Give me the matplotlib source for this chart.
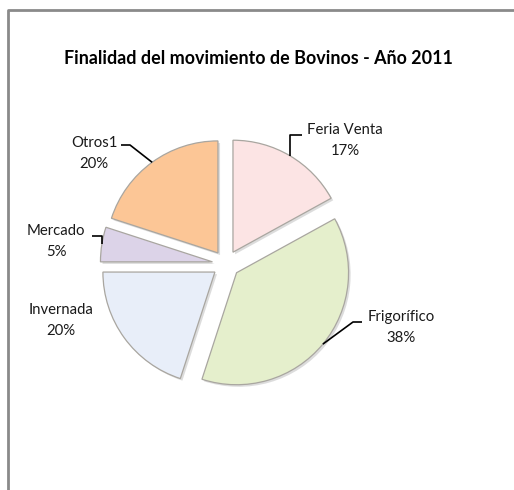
import matplotlib
matplotlib.use("Agg")
import matplotlib.pyplot as plt
import numpy as np
from matplotlib import patheffects as pe

# ---- data ----
title = "Finalidad del movimiento de Bovinos - Año 2011"
categories = ["Feria Venta", "Frigorífico", "Invernada", "Mercado", "Otros1"]
percentages = [17, 38, 20, 5, 20]
colors = ["#fce4e4", "#e5efcc", "#e8eef9", "#dcd3e8", "#fcc696"]

W, H = 514, 490
FONT = "Lato"

def py(y):
    return H - y

fig = plt.figure(figsize=(W / 100, H / 100), dpi=100)
ax = fig.add_axes([0, 0, 1, 1])

cx, cy, R = 226, py(264), 112
wedges, _ = ax.pie(
    percentages, colors=colors, startangle=90, counterclock=False,
    radius=R, center=(cx, cy), explode=[13.7] * len(percentages),
    wedgeprops=dict(edgecolor="#a9a6a0", linewidth=0.9),
)
for w in wedges:
    w.set_path_effects([pe.SimplePatchShadow(offset=(1.5, -1.5), alpha=0.25, shadow_rgbFace="#777777"), pe.Normal()])

ax.set_xlim(0, W)
ax.set_ylim(0, H)
ax.set_aspect("equal")
ax.axis("off")

# label layout (pixel positions of text centers, leader elbows)
label_pos = {
    "Feria Venta": (345, 130),
    "Frigorífico": (401, 317),
    "Invernada": (61, 310),
    "Mercado": (56, 231),
    "Otros1": (94, 143),
}
leaders = {
    "Feria Venta": ("vert", 135, 302),
    "Frigorífico": ((353, 322), 362),
    "Invernada": None,
    "Mercado": ("vert", 236, 92),
    "Otros1": ((130, 145), 121),
}

for w, cat, pct in zip(wedges, categories, percentages):
    tx, ty = label_pos[cat]
    ax.text(tx, py(ty), cat, ha="center", va="center", fontsize=10.7, family=FONT, color="#1a1a1a")
    ax.text(tx, py(ty + 21), f"{pct}%", ha="center", va="center", fontsize=10.7, family=FONT, color="#1a1a1a")
    ld = leaders[cat]
    if ld is None:
        continue
    mid = np.deg2rad((w.theta1 + w.theta2) / 2)
    wx, wy = w.center
    ax_, ay_ = wx + R * np.cos(mid), wy + R * np.sin(mid)
    if ld[0] == "vert":
        ey, endx = ld[1], ld[2]
        xs = [ax_, ax_, endx]
        ys = [ay_, py(ey), py(ey)]
    else:
        (ex, ey), endx = ld
        xs = [ax_, ex, endx]
        ys = [ay_, py(ey), py(ey)]
    ax.plot(xs, ys, color="black", lw=1.2, solid_capstyle="butt")

ax.text(258, py(59), title, ha="center", va="center", fontsize=12.9, fontweight="bold", family=FONT, color="black")

# chart border
ax.plot([8, 8, W], [0, py(10), py(10)], color="#8a8a8a", lw=2, solid_capstyle="butt", clip_on=False)

fig.savefig("out.png", dpi=100)
